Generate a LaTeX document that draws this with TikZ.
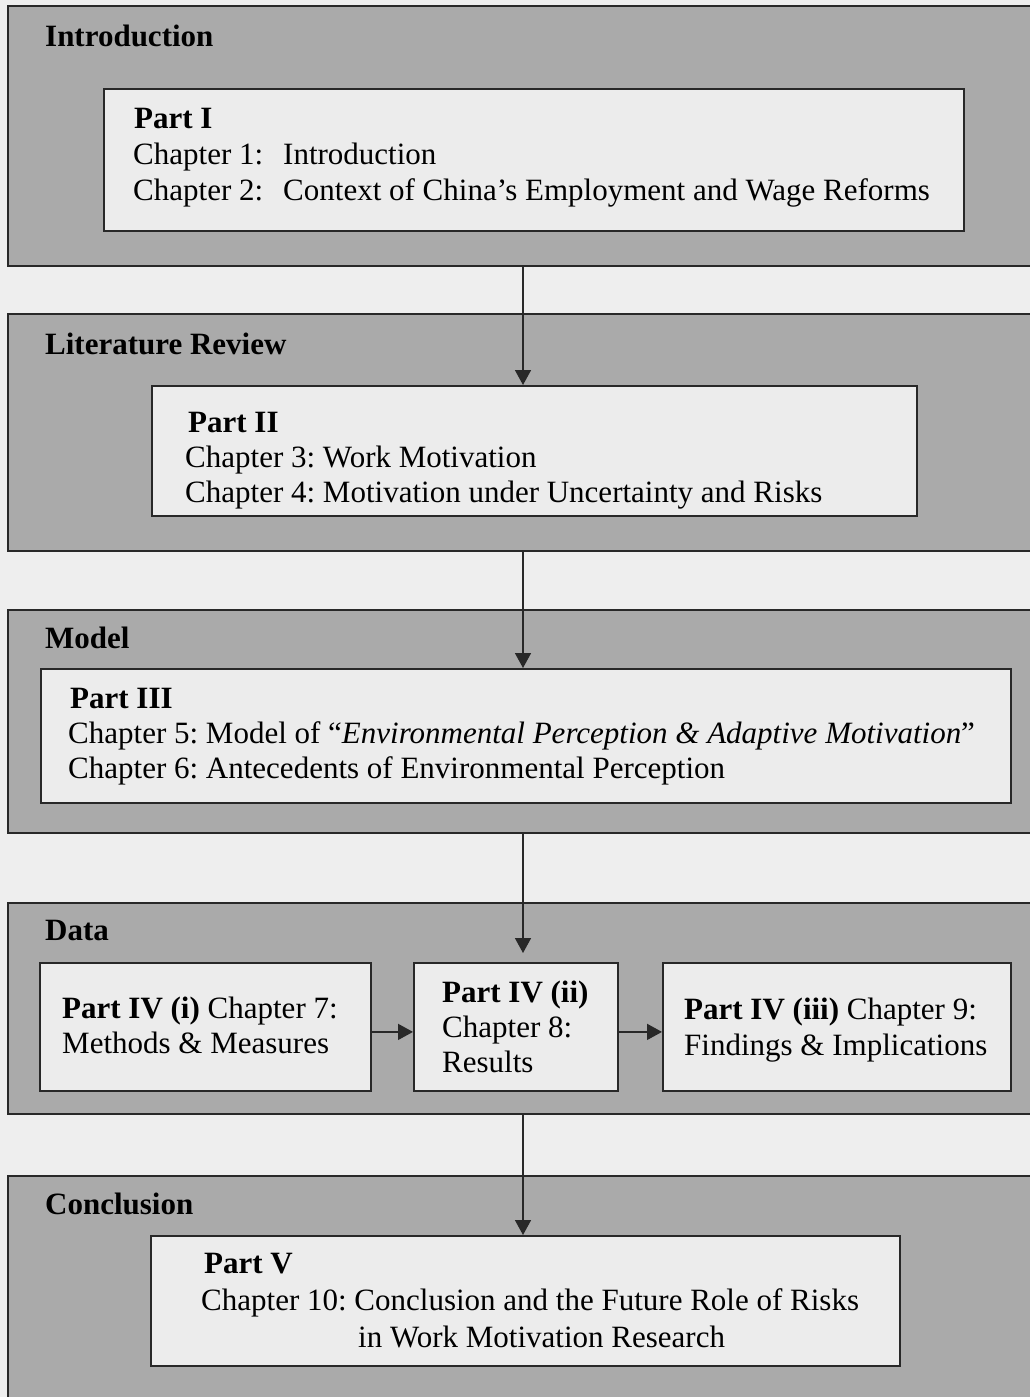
\documentclass[tikz,border=0pt]{standalone}
\usepackage{fontspec}
\setmainfont{Liberation Serif}
\usetikzlibrary{arrows.meta}
\definecolor{pagebg}{RGB}{238,238,238}
\definecolor{bandfill}{RGB}{170,170,170}
\definecolor{boxfill}{RGB}{236,236,236}
\definecolor{rulecol}{RGB}{40,40,40}
\frenchspacing

\begin{document}
\begin{tikzpicture}[x=1pt,y=-1pt,
  band/.style={draw=rulecol, line width=1.8pt, fill=bandfill, anchor=north west, inner sep=0pt},
  partbox/.style={draw=rulecol, line width=1.8pt, fill=boxfill, anchor=north west, inner sep=0pt},
  head/.style={anchor=base west, inner sep=0pt, font=\fontsize{31}{36}\selectfont\bfseries},
  txt/.style={anchor=base west, inner sep=0pt, font=\fontsize{31}{36}\selectfont},
  flow/.style={draw=rulecol, line width=1.6pt, -{Triangle[width=16pt,length=15pt]}}
]
\path[use as bounding box] (0,0) rectangle (1030,1397);
\fill[pagebg] (0,0) rectangle (1030,1397);

\begin{scope}
\clip (0,0) rectangle (1030,1397);

% section bands (they run off the right edge)
\node[band, minimum width=1040pt, minimum height=260pt] (band1) at (7,5) {};
\node[band, minimum width=1040pt, minimum height=237pt] (band2) at (7,313) {};
\node[band, minimum width=1040pt, minimum height=223pt] (band3) at (7,609) {};
\node[band, minimum width=1040pt, minimum height=211pt] (band4) at (7,902) {};
\node[band, minimum width=1040pt, minimum height=250pt] (band5) at (7,1175) {};

% part boxes
\node[partbox, minimum width=860pt, minimum height=142pt] (p1) at (103,88) {};
\node[partbox, minimum width=765pt, minimum height=130pt] (p2) at (151,385) {};
\node[partbox, minimum width=970pt, minimum height=134pt] (p3) at (40,668) {};
\node[partbox, minimum width=331pt, minimum height=128pt] (p4a) at (39,962) {};
\node[partbox, minimum width=204pt, minimum height=128pt] (p4b) at (413,962) {};
\node[partbox, minimum width=348pt, minimum height=128pt] (p4c) at (662,962) {};
\node[partbox, minimum width=749pt, minimum height=130pt] (p5) at (150,1235) {};

% band headings
\node[head] (h1) at (45,47) {Introduction};
\node[head] (h2) at (45,354) {Literature Review};
\node[head] (h3) at (45,648) {Model};
\node[head] (h4) at (45,940) {Data};
\node[head] (h5) at (45,1214) {Conclusion};

% Part I
\node[txt] (t1a) at (134,128) {\textbf{Part I}};
\node[txt] (t1b) at (133,164) {Chapter 1:\hspace{20pt}Introduction};
\node[txt] (t1c) at (133,200) {Chapter 2:\hspace{20pt}Context of China’s Employment and Wage Reforms};

% Part II
\node[txt] (t2a) at (188,432) {\textbf{Part II}};
\node[txt] (t2b) at (185,467) {Chapter 3: Work Motivation};
\node[txt] (t2c) at (185,502) {Chapter 4: Motivation under Uncertainty and Risks};

% Part III
\node[txt] (t3a) at (70,708) {\textbf{Part III}};
\node[txt] (t3b) at (68,743) {Chapter 5: Model of “\textit{Environmental Perception \& Adaptive Motivation}”};
\node[txt] (t3c) at (68,778) {Chapter 6: Antecedents of Environmental Perception};

% Part IV
\node[txt] (t4a1) at (62,1018) {\textbf{Part IV (i)} Chapter 7:};
\node[txt] (t4a2) at (62,1053) {Methods \& Measures};
\node[txt] (t4b1) at (442,1002) {\textbf{Part IV (ii)}};
\node[txt] (t4b2) at (442,1037) {Chapter 8:};
\node[txt] (t4b3) at (442,1072) {Results};
\node[txt] (t4c1) at (684,1019) {\textbf{Part IV (iii)} Chapter 9:};
\node[txt] (t4c2) at (684,1055) {Findings \& Implications};

% Part V
\node[txt] (t5a) at (204,1273) {\textbf{Part V}};
\node[txt] (t5b) at (201,1310) {Chapter 10: Conclusion and the Future Role of Risks};
\node[txt] (t5c) at (358,1347) {in Work Motivation Research};

% connectors
\coordinate (axis) at (523,0);
\draw[flow] (band1.south -| axis) -- (p2.north -| axis);
\draw[flow] (band2.south -| axis) -- (p3.north -| axis);
\draw[flow, shorten >=9pt] (band3.south -| axis) -- (p4b.north -| axis);
\draw[flow] (band4.south -| axis) -- (p5.north -| axis);
\draw[flow] ([yshift=-5pt]p4a.east) -- ([yshift=-5pt]p4b.west);
\draw[flow] ([yshift=-5pt]p4b.east) -- ([yshift=-5pt]p4c.west);
\end{scope}
\end{tikzpicture}
\end{document}
